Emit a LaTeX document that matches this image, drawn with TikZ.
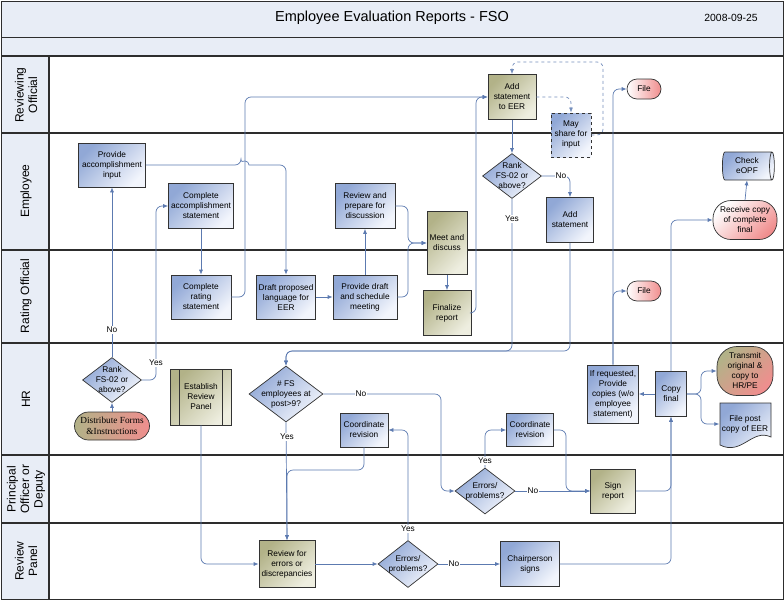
\documentclass[tikz,border=0pt]{standalone}
\usepackage{fontspec}
\setmainfont{Liberation Sans}
\newfontfamily\formfont{Liberation Serif}
\usetikzlibrary{shapes.geometric,arrows.meta}

\definecolor{bluedk}{RGB}{145,168,214}
\definecolor{bluelt}{RGB}{242,245,252}
\definecolor{olivedk}{RGB}{178,178,136}
\definecolor{olivelt}{RGB}{238,238,224}
\definecolor{pinkc}{RGB}{240,142,142}
\definecolor{lnblue}{RGB}{92,122,176}
\definecolor{barfill}{RGB}{232,237,246}
\definecolor{lanegray}{RGB}{45,45,45}

\begin{document}
\begin{tikzpicture}[
  x=1pt,y=-1pt,
  every node/.style={font=\fontsize{8.3}{10}\selectfont,align=center,inner sep=0pt},
  bx/.style 2 args={rectangle,draw=black!80,line width=0.7pt,minimum width=#1pt,minimum height=#2pt},
  blu/.style={top color=bluedk,bottom color=bluelt,shading angle=45},
  olv/.style={top color=olivedk,bottom color=olivelt,shading angle=45},
  dia/.style 2 args={diamond,draw=black!80,line width=0.7pt,minimum width=#1pt,minimum height=#2pt,blu},
  dtx/.style={inner sep=0pt},
  pill/.style={rectangle,rounded corners=#1,draw=black!80,line width=0.7pt},
  lane/.style={draw=lanegray,line width=1.2pt},
  lname/.style={rotate=90,font=\fontsize{12}{13.5}\selectfont},
  ed/.style={draw=lnblue,line width=0.7pt,rounded corners=6pt,-{Latex[length=5pt,width=4pt]}},
  edd/.style={ed,dashed,draw=lnblue!85},
  lbl/.style={fill=white,inner sep=1pt}]

\useasboundingbox (0,0) rectangle (784,600);

% ---- frame, title and lanes ----
\fill[barfill] (1,1) rectangle (783,56);
\fill[barfill] (1,56) rectangle (49,599);
\draw[lanegray,line width=0.8pt] (1,37) -- (783,37);
\draw[lane] (1,56) -- (783,56);
\foreach \y in {133,250,343,455,523} \draw[lane] (1,\y) -- (783,\y);
\draw[lane] (49,56) -- (49,599);
\draw[lanegray,line width=1pt] (1,1) rectangle (783,599);

\node[font=\fontsize{14.5}{16}\selectfont] (title) at (392,18) {Employee Evaluation Reports - FSO};
\node[font=\fontsize{10.4}{12}\selectfont] (date) at (731,18) {2008-09-25};

\node[lname] (ln1) at (26,95)  {Reviewing\\Official};
\node[lname] (ln2) at (26,191) {Employee};
\node[lname] (ln3) at (26,296) {Rating Official};
\node[lname] (ln4) at (26,399) {HR};
\node[lname] (ln5) at (26,489) {Principal\\Officer or\\Deputy};
\node[lname] (ln6) at (26,561) {Review\\Panel};

% ---- steps ----
\node[bx={67}{44},blu] (pai) at (112,165) {Provide\\accomplishment\\input};
\node[bx={65}{45},blu] (cas) at (201,206) {Complete\\accomplishment\\statement};
\node[bx={60}{44},blu] (crs) at (201,297) {Complete\\rating\\statement};
\node[bx={59}{44},blu] (dpl) at (286,297) {Draft proposed\\language for\\EER};
\node[bx={64}{44},blu] (pds) at (365,297) {Provide draft\\and schedule\\meeting};
\node[bx={60}{45},blu] (rpd) at (365,206) {Review and\\prepare for\\discussion};
\node[bx={40}{63},olv] (med) at (447,243) {Meet and\\discuss};
\node[bx={48}{45},olv] (fin) at (447,313) {Finalize\\report};
\node[bx={48}{45},olv] (ase) at (512,97) {Add\\statement\\to EER};
\node[bx={40}{44},blu,dashed,line width=0.9pt] (msi) at (571,135) {May\\share for\\input};
\node[dia={59}{45},label={[dtx]center:{Rank\\FS-02 or\\above?}}] (rk2) at (512,176) {};
\node[bx={47}{45},blu] (as2) at (570,220) {Add\\statement};
\node[pill=10pt,minimum width=34pt,minimum height=20pt,left color=white,right color=pinkc] (fl1) at (644,89) {File};
\node[cylinder,shape border rotate=0,aspect=0.3,draw=black!80,line width=0.7pt,minimum width=28pt,minimum height=52pt,blu] (eop) at (747,166) {Check\\eOPF};
\node[pill=18pt,minimum width=64pt,minimum height=39pt,top color=white,bottom color=pinkc,shading angle=45] (rcv) at (745,220) {Receive copy\\of complete\\final};
\node[pill=10pt,minimum width=34pt,minimum height=20pt,left color=white,right color=pinkc] (fl2) at (644,291) {File};

\node[dia={59}{45},label={[dtx]center:{Rank\\FS-02 or\\above?}}] (rk1) at (112,380) {};
\node[pill=14pt,minimum width=75pt,minimum height=28pt,left color=olivedk,right color=pinkc,font=\formfont\fontsize{9.3}{11}\selectfont] (dist) at (112,426) {Distribute Forms\\\&Instructions};
\node[bx={61}{56},olv,path picture={
    \draw[black!80,line width=0.7pt] ([xshift=9pt]path picture bounding box.north west) -- ([xshift=9pt]path picture bounding box.south west)
      ([xshift=-9pt]path picture bounding box.north east) -- ([xshift=-9pt]path picture bounding box.south east);}] (erp) at (201,397) {Establish\\Review\\Panel};
\node[dia={74}{56},label={[dtx]center:{\# FS\\employees at\\post>9?}}] (fse) at (286,394) {};
\node[bx={48}{34},blu] (cr1) at (364,430) {Coordinate\\revision};
\node[bx={47}{33},blu] (cr2) at (530,430) {Coordinate\\revision};
\node[bx={51}{58},blu] (irq) at (613,394) {If requested,\\Provide\\copies (w/o\\employee\\statement)};
\node[bx={31}{45},blu] (cpf) at (671,394) {Copy\\final};
\node[pill=20pt,minimum width=56pt,minimum height=49pt,top color=olivedk,bottom color=pinkc,shading angle=45] (trn) at (745,371) {Transmit\\original \&\\copy to\\HR/PE};
\path[draw=black!80,line width=0.7pt,top color=bluedk,bottom color=bluelt,shading angle=45]
  (720,403) -- (771,403) -- (771,437) .. controls (752,428) and (742,456) .. (720,445) -- cycle;
\node[minimum width=51pt,minimum height=30pt] (fpc) at (745,424) {File post\\copy of EER};

\node[dia={60}{46},label={[dtx]center:{Errors/\\problems?}}] (ep1) at (485,491) {};
\node[bx={45}{44},olv] (sgr) at (613,491) {Sign\\report};
\node[bx={56}{47},olv] (rfe) at (287,564) {Review for\\errors or\\discrepancies};
\node[dia={60}{47},label={[dtx]center:{Errors/\\problems?}}] (ep2) at (408,564) {};
\node[bx={59}{45},blu] (chs) at (530,564) {Chairperson\\signs};

% ---- flow ----
\draw[ed] (dist.north) -- (rk1.south);
\draw[ed] (rk1.north) -- (pai.south);
\draw[ed] (rk1.east) -- (156,380) -- (156,206) -- (cas.west);
\draw[ed] (pai.east) -- (241,165) [sharp corners] arc[start angle=180,end angle=360,radius=4]
  [rounded corners=6pt] -- (286,165) -- (dpl.north);
\draw[ed] (cas.south) -- (crs.north);
\draw[ed] (crs.east) -| (245,97) -- (ase.west);
\draw[ed] (dpl.east) -- (pds.west);
\draw[ed] (pds.north) -- (rpd.south);
\draw[ed] (pds.east) -| (408,243) -- (med.west);
\draw[ed] (rpd.east) -| (408,243) -- (med.west);
\draw[ed] (med.south) -- (fin.north);
\draw[ed] (fin.east) -| (476,97) -- (ase.west);
\draw[ed] (ase.south) -- (rk2.north);
\draw[edd] (ase.east) -| (msi.north);
\draw[edd] (msi.east) -| (603,62) -| (ase.north);
\draw[ed] (rk2.east) -| (as2.north);
\draw[ed] (rk2.south) -- (512,351) -| (fse.north);
\draw[ed] (as2.south) -- (570,351) -| (fse.north);
\draw[ed] (fse.east) -| (441,491) -- (ep1.west);
\draw[ed] (fse.south) -- (rfe.north);
\draw[ed] (cr1.south) -- (364,470) -| (rfe.north);
\draw[ed] (ep2.north) |- (cr1.east);
\draw[ed] (rfe.east) -- (ep2.west);
\draw[ed] (ep2.east) -- (chs.west);
\draw[ed] (erp.south) |- (rfe.west);
\draw[ed] (ep1.north) |- (cr2.west);
\draw[ed] (ep1.east) -- (sgr.west);
\draw[ed] (cr2.east) -| (566,491) -- (sgr.west);
\draw[ed] (sgr.east) -| (cpf.south);
\draw[ed] (chs.east) -| (cpf.south);
\draw[ed] (cpf.west) -- (irq.east);
\draw[ed] (cpf.east) -- (701,394) |- (trn.west);
\draw[ed] (cpf.east) -- (701,394) |- (fpc.west);
\draw[ed] (irq.north) |- (fl2.west);
\draw[ed] (irq.north) |- (fl1.west);
\draw[ed] (cpf.north) |- (rcv.west);
\draw[ed] (rcv.north) -- (eop.south);

% ---- yes / no ----
\node[lbl] (n1) at (112,330) {No};
\node[lbl] (y1) at (156,363) {Yes};
\node[lbl] (n2) at (561,176) {No};
\node[lbl] (y2) at (512,219) {Yes};
\node[lbl] (n3) at (361,394) {No};
\node[lbl] (y3) at (287,437) {Yes};
\node[lbl] (y4) at (485,461) {Yes};
\node[lbl] (n4) at (533,491) {No};
\node[lbl] (y5) at (408,529) {Yes};
\node[lbl] (n5) at (454,564) {No};
\end{tikzpicture}
\end{document}
